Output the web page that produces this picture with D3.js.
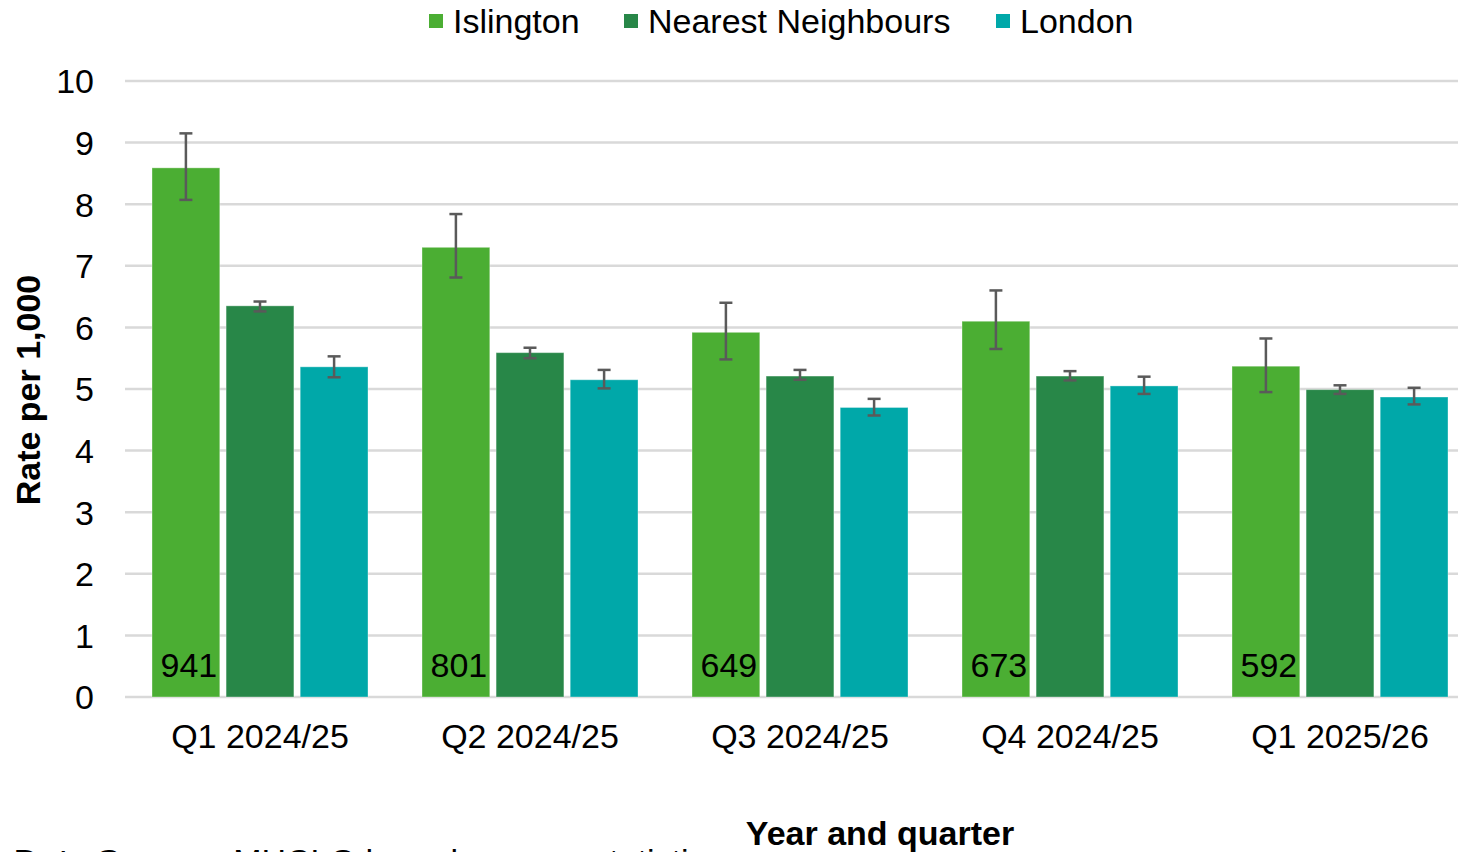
<!DOCTYPE html>
<html><head><meta charset="utf-8">
<script src="https://cdn.jsdelivr.net/npm/d3@7"></script>
<style>
html,body{margin:0;padding:0;background:#fff;overflow:hidden}
text{font-family:"Liberation Sans",Arial,sans-serif}
</style></head>
<body>
<svg id="c" width="1458" height="852"></svg>
<script>
const categories = ["Q1 2024/25","Q2 2024/25","Q3 2024/25","Q4 2024/25","Q1 2025/26"];
const seriesNames = ["Islington","Nearest Neighbours","London"];
const seriesColors = ["#4BAE33","#288748","#00A8A9"];
const islington = [8.59, 7.30, 5.92, 6.10, 5.37];
const islingtonLow = [8.07, 6.81, 5.48, 5.65, 4.95];
const islingtonHigh = [9.15, 7.84, 6.40, 6.60, 5.82];
const neighbours = [6.35, 5.59, 5.21, 5.21, 4.99];
const neighboursLow = [6.26, 5.50, 5.15, 5.14, 4.92];
const neighboursHigh = [6.42, 5.67, 5.31, 5.29, 5.06];
const london = [5.36, 5.15, 4.70, 5.05, 4.87];
const londonLow = [5.19, 5.01, 4.57, 4.92, 4.75];
const londonHigh = [5.53, 5.31, 4.84, 5.20, 5.02];
const counts = ["941","801","649","673","592"];
const yTicks = [0,1,2,3,4,5,6,7,8,9,10];

const values = [islington, neighbours, london];
const lows = [islingtonLow, neighboursLow, londonLow];
const highs = [islingtonHigh, neighboursHigh, londonHigh];
const FS = 34;

const svg = d3.select("#c");
const x0 = d3.scaleBand().domain(categories).range([125, 1475]).paddingInner(0.2).paddingOuter(0.1);
const x1 = d3.scaleBand().domain(seriesNames).range([0, x0.bandwidth()]).paddingInner(0.085);
const y = d3.scaleLinear().domain([0, 10]).range([697, 81]);

// grid
svg.append("g").selectAll("line").data(yTicks).join("line")
  .attr("x1", 125).attr("x2", 1458)
  .attr("y1", d => y(d)).attr("y2", d => y(d))
  .attr("stroke", "#d9d9d9").attr("stroke-width", 2.5);

// y axis labels
const yAxis = d3.axisLeft(y).tickValues(yTicks).tickSize(0).tickPadding(0);
const yg = svg.append("g").attr("transform", "translate(94,0)").call(yAxis);
yg.select(".domain").remove();
yg.selectAll("text").attr("font-size", FS).attr("fill", "#000")
  .attr("font-family", "Liberation Sans, Arial, sans-serif").attr("dy", "0.35em");

// bars
const data = [];
categories.forEach((c, i) => seriesNames.forEach((s, j) => data.push({c, s, j, v: values[j][i], lo: lows[j][i], hi: highs[j][i]})));
const bars = svg.append("g");
bars.selectAll("rect").data(data).join("rect")
  .attr("x", d => x0(d.c) + x1(d.s))
  .attr("y", d => y(d.v))
  .attr("width", x1.bandwidth())
  .attr("height", d => y(0) - y(d.v))
  .attr("fill", d => seriesColors[d.j])
  .attr("stroke", "rgba(255,255,255,0.35)").attr("stroke-width", 1);

// error bars
const eg = svg.append("g").attr("stroke", "#5a5a5a").attr("stroke-width", 2.5);
data.forEach(d => {
  const cx = x0(d.c) + x1(d.s) + x1.bandwidth() / 2;
  eg.append("line").attr("x1", cx).attr("x2", cx).attr("y1", y(d.hi)).attr("y2", y(d.lo));
  eg.append("line").attr("x1", cx - 6.5).attr("x2", cx + 6.5).attr("y1", y(d.hi)).attr("y2", y(d.hi));
  eg.append("line").attr("x1", cx - 6.5).attr("x2", cx + 6.5).attr("y1", y(d.lo)).attr("y2", y(d.lo));
});

// count labels
svg.append("g").selectAll("text").data(categories).join("text")
  .attr("x", (c) => x0(c) + x1(seriesNames[0]) + x1.bandwidth() / 2 + 3)
  .attr("y", 677)
  .attr("text-anchor", "middle").attr("font-size", FS).attr("fill", "#000")
  .text((c, i) => counts[i]);

// x axis labels
const xAxis = d3.axisBottom(x0).tickSize(0).tickPadding(0);
const xg = svg.append("g").attr("transform", "translate(0,724)").call(xAxis);
xg.select(".domain").remove();
xg.selectAll("text").attr("font-size", FS).attr("fill", "#000")
  .attr("font-family", "Liberation Sans, Arial, sans-serif").attr("dy", "0.72em");

// axis titles
svg.append("text").attr("transform", "translate(40,390) rotate(-90)")
  .attr("text-anchor", "middle").attr("font-size", FS).attr("font-weight", "bold").text("Rate per 1,000");
svg.append("text").attr("x", 880).attr("y", 845)
  .attr("text-anchor", "middle").attr("font-size", FS).attr("font-weight", "bold").text("Year and quarter");

// source (cut off at the bottom edge, as in the original)
const src = svg.append("text").attr("x", 14).attr("y", 873).attr("font-size", FS);
src.append("tspan").attr("font-weight", "bold").text("Data Source: ");
src.append("tspan").text("MHCLG homelessness statistics");

// legend
const legendX = [429, 624, 996];
const lg = svg.append("g");
seriesNames.forEach((s, j) => {
  lg.append("rect").attr("x", legendX[j]).attr("y", 14).attr("width", 14).attr("height", 14).attr("fill", seriesColors[j]);
  lg.append("text").attr("x", legendX[j] + 24).attr("y", 33).attr("font-size", FS).attr("fill", "#000").text(s);
});
</script>
</body></html>
